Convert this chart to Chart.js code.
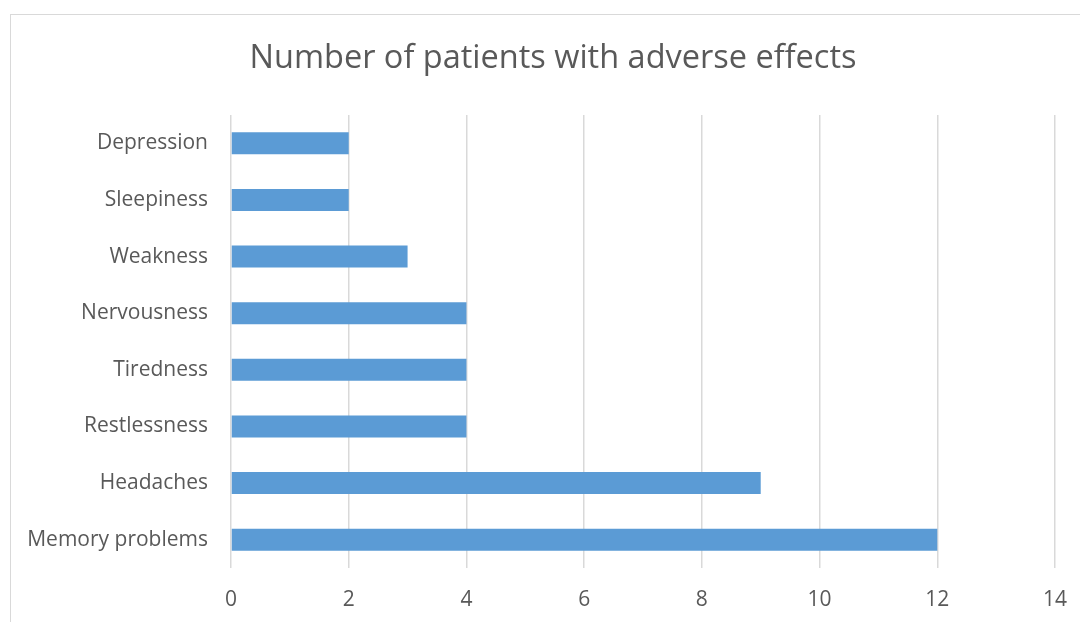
<!DOCTYPE html>
<html>
<head>
<meta charset="utf-8">
<script src="https://cdn.jsdelivr.net/npm/chart.js@4.4.1/dist/chart.umd.min.js"></script>
<style>
  html, body { margin: 0; padding: 0; background: #fff; overflow: hidden; }
  #wrap { position: relative; width: 1080px; height: 622px; }
  #frame { position: absolute; left: 10px; top: 14px; width: 1200px; height: 800px; border: 1px solid #D9D9D9; box-sizing: border-box; }
  canvas { position: absolute; left: 0; top: 0; }
</style>
</head>
<body>
<div id="wrap">
  <div id="frame"></div>
  <canvas id="c" width="1080" height="622"></canvas>
</div>
<script>
const categories = ["Depression", "Sleepiness", "Weakness", "Nervousness", "Tiredness", "Restlessness", "Headaches", "Memory problems"];
const patients = [2, 2, 3, 4, 4, 4, 9, 12];
const xTicks = [0, 2, 4, 6, 8, 10, 12, 14];
const titleText = "Number of patients with adverse effects";

const FONT = "'Open Sans', 'Noto Sans', sans-serif";
const TXT = "#595959";

const titlePlugin = {
  id: "frameTitle",
  afterDraw(chart) {
    const ctx = chart.ctx;
    ctx.save();
    ctx.fillStyle = TXT;
    ctx.font = "32.5px " + FONT;
    ctx.textAlign = "center";
    ctx.textBaseline = "middle";
    ctx.fillText(titleText, 553, 59);
    ctx.restore();
  }
};

new Chart(document.getElementById("c"), {
  type: "bar",
  data: {
    labels: categories,
    datasets: [{
      data: patients,
      backgroundColor: "#5B9BD5",
      borderWidth: 0,
      categoryPercentage: 1,
      barPercentage: 0.39
    }]
  },
  options: {
    indexAxis: "y",
    responsive: false,
    animation: false,
    devicePixelRatio: 1,
    layout: { padding: { left: 0, right: 25, top: 115, bottom: 0 } },
    plugins: {
      legend: { display: false },
      tooltip: { enabled: false },
      title: { display: false }
    },
    scales: {
      x: {
        min: 0, max: 14,
        afterBuildTicks: (s) => { s.ticks = xTicks.map(v => ({ value: v })); },
        afterFit: (s) => { s.height = 54; s.paddingLeft = 0; s.paddingRight = 0; },
        grid: { color: "#D9D9D9", lineWidth: 1.5, drawTicks: false },
        border: { display: false },
        ticks: { color: TXT, font: { family: FONT, size: 21 }, padding: 19 }
      },
      y: {
        afterFit: (s) => { s.width = 231; s.paddingTop = 0; s.paddingBottom = 0; },
        grid: { display: false, drawTicks: false },
        border: { display: false },
        ticks: { color: TXT, font: { family: FONT, size: 21 }, padding: 23 }
      }
    }
  },
  plugins: [titlePlugin]
});
</script>
</body>
</html>
